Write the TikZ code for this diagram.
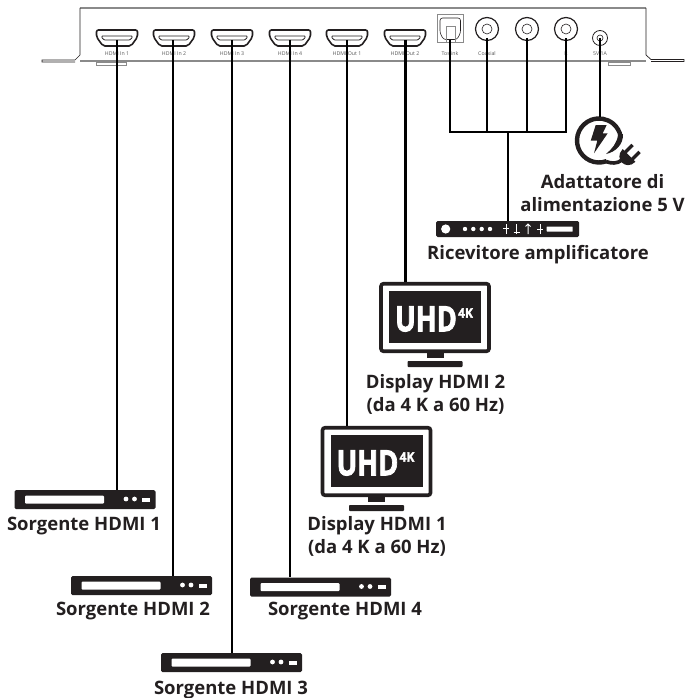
\documentclass[tikz,border=0pt]{standalone}
\usepackage{fontspec}
\setmainfont{Open Sans}
\newfontfamily\uhdfont[UprightFont=* Bold, FakeBold=2.5]{Open Sans}
\usepackage{xcolor}
\definecolor{ink}{HTML}{231F20}
\definecolor{panelgray}{HTML}{8A8A8A}
\definecolor{tinygray}{HTML}{555555}

\tikzset{
	caption/.style={text=ink, align=center, font=\fontsize{18.5}{23}\selectfont\bfseries, inner sep=0pt},
	portlabel/.style={text=tinygray, font=\fontsize{5.2}{6}\selectfont, inner sep=0pt},
	cable/.style={draw=black, line width=2.2pt},
	sourcebox/.style={fill=ink, rounded corners=1.5pt, minimum width=141pt, minimum height=19pt, inner sep=0pt},
	screenbox/.style={draw=ink, line width=3.6pt, rounded corners=2.5pt, minimum width=108pt, minimum height=67.5pt, inner sep=0pt},
	receiverbox/.style={fill=ink, rounded corners=1.5pt, minimum width=143pt, minimum height=16pt, inner sep=0pt},
	sourcefront/.pic={
			\fill[white, rounded corners=1pt] (-60,-4) rectangle (19,4);
			\fill[white] (41,-.5) circle (2.4);
			\fill[white] (49.5,-.5) circle (2.4);
			\fill[white] (57,-2) rectangle (65,2);
		},
	monitor/.pic={
			\fill[ink] (-46,-26.5) rectangle (46,25.5);
			\fill[ink] (-8.5,35) rectangle (8.5,40);
			\fill[ink, rounded corners=.8pt] (-27.5,43.5) rectangle (27.5,49.5);
			\node (uhd) at (-9,1.5) [text=white, inner sep=0pt, font=\fontsize{35}{35}\uhdfont] {\scalebox{.78}[1]{UHD}};
			\node (res) at (30.5,-4.5) [text=white, inner sep=0pt, font=\fontsize{13}{13}\uhdfont] {\scalebox{.92}[1]{4K}};
		},
	hdmiport/.pic={
			\draw[ink, line width=1.6pt, rounded corners=2pt] (-20.5,-8) -- (20.5,-8) -- (20.5,-1) -- (14,8) -- (-14,8) -- (-20.5,-1) -- cycle;
			\draw[ink, line width=.8pt, rounded corners=.5pt] (-15,-2) -- (15,-2) -- (15,0) -- (12.5,2) -- (-12.5,2) -- (-15,0) -- cycle;
		},
	jack/.pic={
			\draw[ink, line width=1.2pt] (0,0) circle (11.5);
			\draw[ink, line width=.6pt] (0,0) circle (5);
		}
}

\begin{document}
\begin{tikzpicture}[x=1pt, y=-1pt]
	\useasboundingbox (0,0) rectangle (687,698);

	% back panel
	\draw[panelgray, line width=1.5pt] (80,8) -- (646,8);
	\draw[panelgray, line width=1.3pt] (80,61) -- (646,61);
	\draw[ink, line width=.7pt] (80,8) -- (80,55) -- (75,60) -- (42,60) -- (42,62) -- (75,62);
	\draw[ink, line width=.7pt] (646,8) -- (646,55) -- (651,59.5) -- (684,59.5) -- (684,61.5) -- (651,61.5);
	\draw[panelgray, line width=.7pt] (96,62) rectangle (126,65);
	\draw[panelgray, line width=.7pt] (608,62) rectangle (630,65);

	% ports
	\pic at (117,38) {hdmiport};
	\pic at (174,38) {hdmiport};
	\pic at (232,38) {hdmiport};
	\pic at (290,38) {hdmiport};
	\pic at (347,38) {hdmiport};
	\pic at (405,38) {hdmiport};
	\draw[panelgray, line width=1pt] (437,15) rectangle (463.5,42.5);
	\draw[ink, line width=.6pt, rounded corners=2.5pt] (440,18) -- (460.5,18) -- (460.5,33) -- (457,39.5) -- (443.5,39.5) -- (440,33) -- cycle;
	\draw[panelgray, line width=.8pt] (446,42) -- (446,26.5) -- (455,26.5) -- (455,42);
	\pic at (487,29) {jack};
	\pic at (527,29) {jack};
	\pic at (566,29) {jack};
	\draw[ink, line width=.8pt] (600,38) circle (7.5);
	\draw[ink, line width=.6pt] (600,38) circle (3);

	\node (lblin1) at (117,54) [portlabel] {HDMI In 1};
	\node (lblin2) at (174,54) [portlabel] {HDMI In 2};
	\node (lblin3) at (232,54) [portlabel] {HDMI In 3};
	\node (lblin4) at (290,54) [portlabel] {HDMI In 4};
	\node (lblout1) at (347,54) [portlabel] {HDMI Out 1};
	\node (lblout2) at (405,54) [portlabel] {HDMI Out 2};
	\node (lbltos) at (450,54) [portlabel] {Toslink};
	\node (lblcoax) at (487,54) [portlabel] {Coaxial};
	\node (lblleft) at (527,54) [portlabel] {L};
	\node (lblright) at (566,54) [portlabel] {R};
	\node (lblpower) at (600,54) [portlabel] {5V 1A};

	\coordinate (in1) at (117,40);
	\coordinate (in2) at (173,40);
	\coordinate (in3) at (232,40);
	\coordinate (in4) at (290,40);
	\coordinate (out1) at (347,40);
	\coordinate (out2) at (405.5,40);
	\coordinate (tos) at (450,40);
	\coordinate (coax) at (487,38);
	\coordinate (left) at (527,38);
	\coordinate (right) at (566,38);
	\coordinate (power) at (600,38);
	\coordinate (busleft) at (450,132);
	\coordinate (busright) at (566,132);
	\coordinate (busdrop) at (508,132);

	% sources
	\node (src1) at (85,499.5) [sourcebox] {};
	\pic at (85,499.5) {sourcefront};
	\node (cap1) at (84,526.5) [caption] {Sorgente HDMI 1};
	\node (src2) at (141.5,585.5) [sourcebox] {};
	\pic at (141.5,585.5) {sourcefront};
	\node (cap2) at (133,611.5) [caption] {Sorgente HDMI 2};
	\node (src3) at (231.5,662.5) [sourcebox] {};
	\pic at (231.5,662.5) {sourcefront};
	\node (cap3) at (231,690.5) [caption] {Sorgente HDMI 3};
	\node (src4) at (320.5,587) [sourcebox] {};
	\pic at (320.5,587) {sourcefront};
	\node (cap4) at (345,611.5) [caption] {Sorgente HDMI 4};

	% displays
	\node (dsp2) at (435,317.5) [screenbox] {};
	\pic (art2) at (435,317.5) {monitor};
	\node (capdsp2) at (435.5,394) [caption] {Display HDMI 2\\(da 4 K a 60 Hz)};
	\node (dsp1) at (376.5,461.5) [screenbox] {};
	\pic (art1) at (376.5,461.5) {monitor};
	\node (capdsp1) at (377,536.5) [caption] {Display HDMI 1\\(da 4 K a 60 Hz)};

	% receiver
	\node (amp) at (507.5,229) [receiverbox] {};
	\fill[white] (445.7,229) circle (4.6);
	\fill[white] (465,229) circle (2.2);
	\fill[white] (473.3,229) circle (2.2);
	\fill[white] (481.7,229) circle (2.2);
	\fill[white] (490,229) circle (2.2);
	\draw[white, line width=1pt] (506,224) -- (506,234) (503,228) -- (509,228);
	\draw[white, line width=1pt] (516.7,224) -- (516.7,234) (513.7,232.5) -- (519.7,232.5);
	\draw[white, line width=1pt] (528,224.5) -- (528,234) (525.5,226.5) -- (528,224) -- (530.5,226.5);
	\draw[white, line width=1pt] (540,224) -- (540,234) (537,229.5) -- (543,229.5);
	\fill[white, rounded corners=.5pt] (546.7,226.5) rectangle (572.7,231.7);
	\node (capamp) at (538,254.5) [caption] {Ricevitore amplificatore};

	% power adapter
	\draw[ink, line width=4.4pt] (599,140.5) ++(70:22) arc (70:350:22);
	\fill[ink] (623,134) .. controls (623.5,144) and (616,152) .. (606,154) .. controls (612,149) and (617,143) .. (618,135) -- cycle;
	\fill[ink] (595.7,125) -- (606.7,125) -- (602.7,133.3) -- (607.7,133.3) -- (594,153.3) -- (597.3,140.7) -- (590.7,140.7) -- cycle;
	\draw[ink, line width=3.6pt] (606,161.5) .. controls (611,163.5) and (617,164) .. (622,160);
	\begin{scope}[shift={(629,155.5)}, rotate=45]
		\fill[ink] (0,-9) -- (0,9) .. controls (-7,9) and (-10,4) .. (-10,0) .. controls (-10,-4) and (-7,-9) .. (0,-9) -- cycle;
		\fill[ink] (-1,-6.6) rectangle (10,-3.2);
		\fill[ink] (-1,3.2) rectangle (10,6.6);
	\end{scope}
	\node (plugtop) at (600,117) [inner sep=0pt, minimum size=0pt] {};
	\node (cappower) at (602.5,193) [caption] {Adattatore di\\alimentazione 5 V};

	% cables
	\draw[cable] (in1) -- (in1 |- src1.north);
	\draw[cable] (in2) -- (in2 |- src2.north);
	\draw[cable] (in3) -- (in3 |- src3.north);
	\draw[cable] (in4) -- (in4 |- src4.north);
	\draw[cable] (out1) -- (out1 |- dsp1.north);
	\draw[cable] (out2) -- (out2 |- dsp2.north);
	\draw[cable] (tos) -- (busleft) -- (busright) -- (right);
	\draw[cable] (coax) -- (coax |- busleft);
	\draw[cable] (left) -- (left |- busleft);
	\draw[cable] (busdrop) -- (busdrop |- amp.north);
	\draw[cable] (power) -- (plugtop);
\end{tikzpicture}
\end{document}
